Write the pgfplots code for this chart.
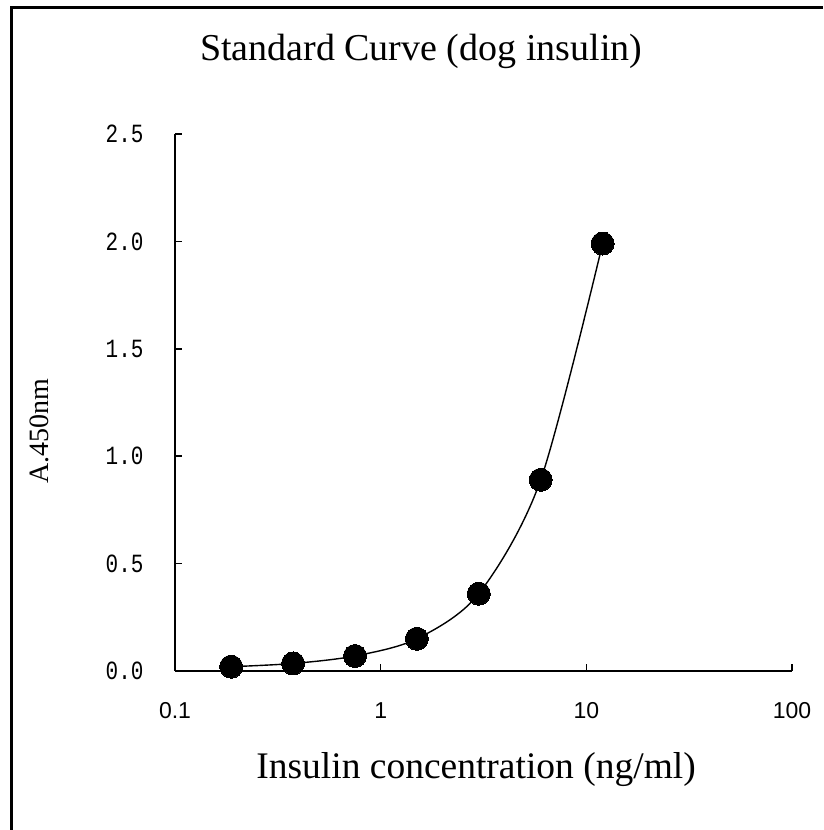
\documentclass[border=0pt]{standalone}
\usepackage{fontspec}
\setmainfont{Liberation Serif}
\newfontfamily\monofont{Liberation Mono}
\newfontfamily\sansfont{Liberation Sans}
\usepackage{graphicx}
\usepackage{pgfplots}
\pgfplotsset{compat=1.18}
\begin{document}
\begin{tikzpicture}
\useasboundingbox (0,0) rectangle (823pt,830pt);
\fill[white] (0,0) rectangle (823pt,830pt);
\draw[line width=3pt] (11pt,0pt) -- (11pt,822pt) -- (823pt,822pt);
\begin{axis}[
  at={(175pt,159pt)}, anchor=south west,
  scale only axis, width=617pt, height=537pt,
  xmode=log, log basis x=10,
  xmin=0.1, xmax=100, ymin=0, ymax=2.5,
  axis lines=left, axis line style={-, line width=1.6pt},
  tick align=inside, major tick length=7pt,
  every tick/.style={black, line width=1.6pt},
  xtick={1,10,100}, xticklabels={1,10,100},
  extra x ticks={0.1}, extra x tick labels={0.1},
  extra x tick style={major tick length=0pt},
  xminorticks=false,
  ytick={0,0.5,1,1.5,2,2.5},
  yticklabels={0.0,0.5,1.0,1.5,2.0,2.5},
  xticklabel style={font=\sansfont\fontsize{23}{25}\selectfont, yshift=-28pt},
  yticklabel style={font=\monofont\fontsize{21}{23}\selectfont, xshift=-28pt, yscale=1.25},
  title={Standard Curve (dog insulin)},
  title style={at={(axis description cs:0.399,1.143)}, anchor=center, font=\fontsize{38}{42}\selectfont},
  xlabel={Insulin concentration (ng/ml)},
  every axis x label/.style={at={(axis description cs:0.488,-0.184)}, anchor=center, font=\fontsize{37.5}{40}\selectfont},
  ylabel={A.450nm},
  every axis y label/.style={at={(axis description cs:-0.219,0.447)}, rotate=90, anchor=center, font=\fontsize{28}{32}\selectfont},
  clip=false,
]
\addplot[black, line width=1.4pt, smooth, mark=*, mark size=11.5pt, mark options={fill=black, draw=black, line width=0pt}]
  coordinates {(0.1875,0.02) (0.375,0.035) (0.75,0.07) (1.5,0.15) (3,0.36) (6,0.89) (12,1.99)};
\end{axis}
\end{tikzpicture}
\end{document}
